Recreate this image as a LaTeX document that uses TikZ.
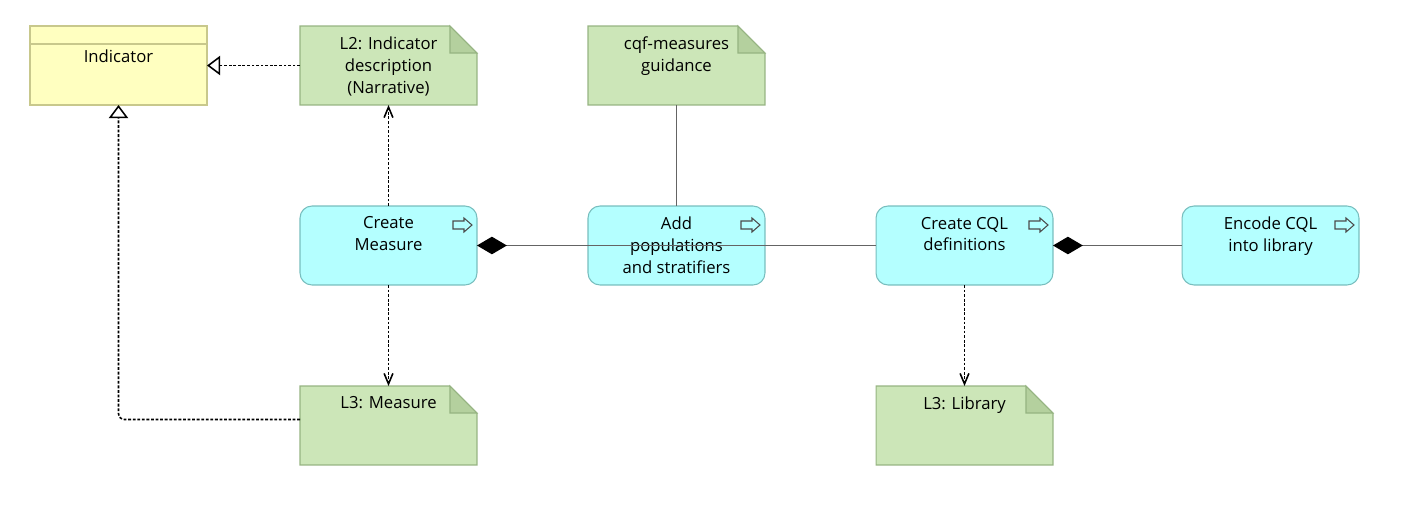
\documentclass[tikz,border=0pt]{standalone}
\usepackage{fontspec}
\setmainfont{Open Sans}
\usetikzlibrary{arrows.meta, calc}
\definecolor{indfill}{RGB}{255,255,192}
\definecolor{inddraw}{RGB}{200,200,140}
\definecolor{notefill}{RGB}{204,230,184}
\definecolor{notefold}{RGB}{180,208,158}
\definecolor{notedraw}{RGB}{150,180,130}
\definecolor{procfill}{RGB}{180,255,255}
\definecolor{procdraw}{RGB}{120,190,190}
\definecolor{linegray}{RGB}{100,100,100}
\tikzset{
  box/.style={minimum width=3.54cm, minimum height=1.58cm, inner sep=0pt, outer sep=0pt},
  txt/.style={anchor=north, yshift=-6pt, inner sep=0pt, align=center,
    font=\fontsize{9.5}{12.5}\selectfont},
  proc/.style={box, draw=procdraw, fill=procfill, line width=0.6pt,
    rounded corners=0.24cm, label={[txt]north:#1}},
  icon/.style={draw=black!70, line width=0.6pt},
  dotline/.style={line width=0.9pt, dash pattern=on 1.6pt off 1pt},
  assoc/.style={draw=linegray, line width=0.7pt},
  real/.style={-{Triangle[open, length=7.5pt, width=11pt]}},
  dep/.style={-{Straight Barb[length=6pt, width=5pt]}},
  comp/.style={{Diamond[length=17pt, width=10pt, black]}-}
}
\newcommand{\notebox}[3]{%
  \node[box] (#1) at (#2) {};
  \filldraw[draw=notedraw, fill=notefill, line width=0.6pt] (#1.north west)
    -- ([shift={(-27,0)}]#1.north east) -- ([shift={(0,27)}]#1.north east)
    -- (#1.south east) -- (#1.south west) -- cycle;
  \filldraw[draw=notedraw, fill=notefold, line width=0.6pt] ([shift={(-27,0)}]#1.north east)
    -- ([shift={(-27,27)}]#1.north east) -- ([shift={(0,27)}]#1.north east) -- cycle;
  \node[txt] (#1-t) at (#1.north) {#3};
}

\begin{document}
\begin{tikzpicture}[x=0.02cm, y=-0.02cm]
  \useasboundingbox (0,0) rectangle (1402,510);
  % class
  \node[box, draw=inddraw, fill=indfill, line width=0.6pt] (ind) at (118.5,65.5) {};
  \draw[inddraw, line width=0.6pt] ([shift={(0,18)}]ind.north west) -- ([shift={(0,18)}]ind.north east);
  \node[txt] (ind-t) at ([shift={(0,12.5)}]ind.north) {Indicator};
  % notes
  \notebox{l2}{388.5,65.5}{L2: Indicator\\description\\(Narrative)}
  \notebox{cqf}{676.5,65.5}{cqf-measures\\guidance}
  \notebox{l3m}{388.5,425.5}{L3: Measure}
  \notebox{l3l}{964.5,425.5}{L3: Library}
  % processes
  \node[proc={Create\\Measure}] (cm) at (388.5,245.5) {};
  \node[proc={Add\\populations\\and stratifiers}] (ap) at (676.5,245.5) {};
  \node[proc={Create CQL\\definitions}] (cql) at (964.5,245.5) {};
  \node[proc={Encode CQL\\into library}] (enc) at (1270.5,245.5) {};
  \foreach \n in {cm,ap,cql,enc}
    \draw[icon] ([shift={(-24,15)}]\n.north east) -- ++(11,0) -- ++(0,-3) -- ++(8,7)
      -- ++(-8,7) -- ++(0,-3) -- ++(-11,0) -- cycle;
  % relations
  \draw[dotline, real] (l2) -- (ind);
  \draw[dotline, real, rounded corners=0.12cm] ([shift={(0,-6)}]l3m.west) -| (ind.south);
  \draw[dotline, dep] (cm) -- (l2);
  \draw[dotline, dep] (cm) -- (l3m);
  \draw[dotline, dep] (cql) -- (l3l);
  \draw[assoc] (cqf) -- (ap);
  \draw[assoc, comp] (cm.east) -- (cql.west);
  \draw[assoc, comp] (cql.east) -- (enc.west);
\end{tikzpicture}
\end{document}
